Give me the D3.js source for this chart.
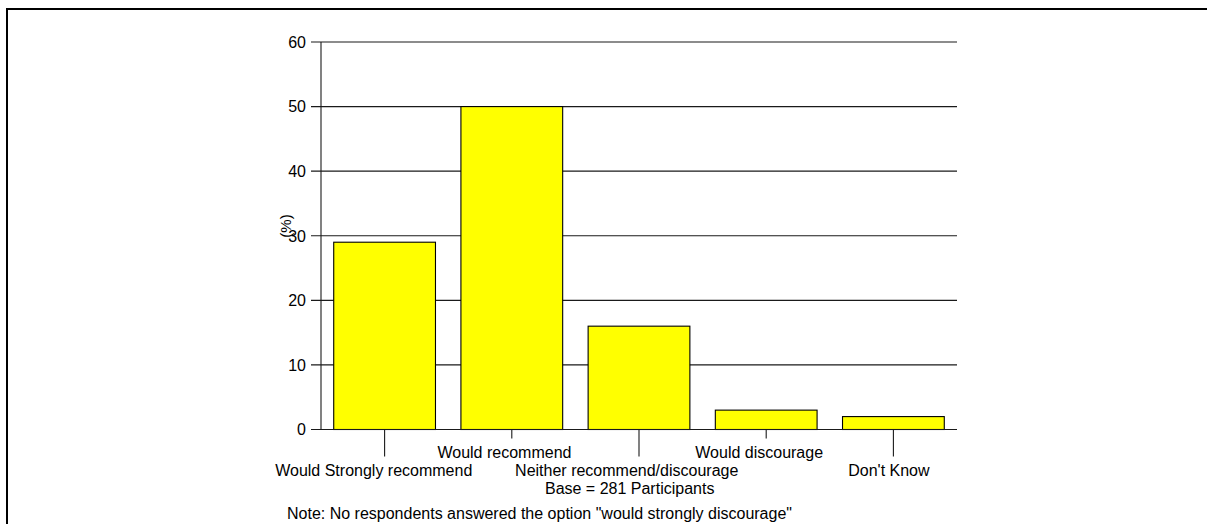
<!DOCTYPE html>
<html>
<head>
<meta charset="utf-8">
<script src="https://cdn.jsdelivr.net/npm/d3@7"></script>
<style>
  html, body { margin: 0; padding: 0; background: #fff; }
  svg { display: block; font-family: "Liberation Sans", Arial, sans-serif; }
</style>
</head>
<body>
<svg id="chart" width="1207" height="524"></svg>
<script>
// Recommendation responses (% of participants)
const categories = [
  "Would Strongly recommend",
  "Would recommend",
  "Neither recommend/discourage",
  "Would discourage",
  "Don't Know"
];
const percents = [29, 50, 16, 3, 2];
const yTicks = [0, 10, 20, 30, 40, 50, 60];
const yLabel = "(%)";
const baseText = "Base = 281 Participants";
const noteText = "Note: No respondents answered the option \"would strongly discourage\"";

const svg = d3.select("#chart");

// outer frame
svg.append("rect")
  .attr("x", 7).attr("y", 9)
  .attr("width", 1400).attr("height", 700)
  .attr("fill", "none").attr("stroke", "#000").attr("stroke-width", 2);

const plot = { left: 321, right: 957, top: 42, bottom: 429.5 };

const x = d3.scaleBand()
  .domain(categories)
  .range([plot.left, plot.right])
  .paddingInner(0.2)
  .paddingOuter(0.1);

const y = d3.scaleLinear()
  .domain([0, 60])
  .range([plot.bottom, plot.top]);

// gridlines + y ticks
const yAxis = svg.append("g");
yAxis.selectAll("line.grid")
  .data(yTicks)
  .join("line")
  .attr("class", "grid")
  .attr("x1", plot.left - 10).attr("x2", plot.right)
  .attr("y1", d => y(d)).attr("y2", d => y(d))
  .attr("stroke", "#1a1a1a").attr("stroke-width", 1.1);

yAxis.selectAll("text")
  .data(yTicks)
  .join("text")
  .attr("x", 306)
  .attr("y", d => y(d))
  .attr("dy", "0.36em")
  .attr("text-anchor", "end")
  .attr("font-size", 16)
  .attr("fill", "#000")
  .text(d => d);

// y axis line
svg.append("line")
  .attr("x1", plot.left).attr("x2", plot.left)
  .attr("y1", y(60)).attr("y2", y(0))
  .attr("stroke", "#1a1a1a").attr("stroke-width", 1.1);

// axis title
svg.append("text")
  .attr("transform", `translate(291,226) rotate(-90)`)
  .attr("text-anchor", "middle")
  .attr("font-size", 15)
  .attr("fill", "#000")
  .text(yLabel);

// bars
svg.append("g").selectAll("rect")
  .data(percents)
  .join("rect")
  .attr("x", (d, i) => x(categories[i]))
  .attr("y", d => y(d))
  .attr("width", x.bandwidth())
  .attr("height", d => y(0) - y(d))
  .attr("fill", "#ffff00")
  .attr("stroke", "#000")
  .attr("stroke-width", 1.1);

// x axis line (drawn over the bar bottoms)
svg.append("line")
  .attr("x1", plot.left).attr("x2", plot.right)
  .attr("y1", y(0)).attr("y2", y(0))
  .attr("stroke", "#1a1a1a").attr("stroke-width", 1.1);

// staggered category ticks and labels
const cx = c => x(c) + x.bandwidth() / 2;
const xAxis = svg.append("g");
xAxis.selectAll("line")
  .data(categories)
  .join("line")
  .attr("x1", cx).attr("x2", cx)
  .attr("y1", y(0))
  .attr("y2", (d, i) => y(0) + (i % 2 === 0 ? 27 : 9))
  .attr("stroke", "#1a1a1a").attr("stroke-width", 1.1);

// labels are laid out slightly left of their tick centre
function placeCentred(sel, cxFn) {
  sel.each(function(d, i) {
    const w = this.getComputedTextLength();
    d3.select(this).attr("x", cxFn(d, i) - 0.555 * w);
  });
}

const xLabels = xAxis.selectAll("text")
  .data(categories)
  .join("text")
  .attr("y", (d, i) => i % 2 === 0 ? 476 : 458)
  .attr("text-anchor", "start")
  .attr("font-size", 16)
  .attr("fill", "#000")
  .text(d => d);
placeCentred(xLabels, d => cx(d));

const base = svg.append("text")
  .datum(baseText)
  .attr("y", 494)
  .attr("font-size", 16)
  .attr("fill", "#000")
  .text(d => d);
placeCentred(base, () => (plot.left + plot.right) / 2);

svg.append("text")
  .attr("x", 287)
  .attr("y", 519)
  .attr("font-size", 16)
  .attr("fill", "#000")
  .text(noteText);
</script>
</body>
</html>
